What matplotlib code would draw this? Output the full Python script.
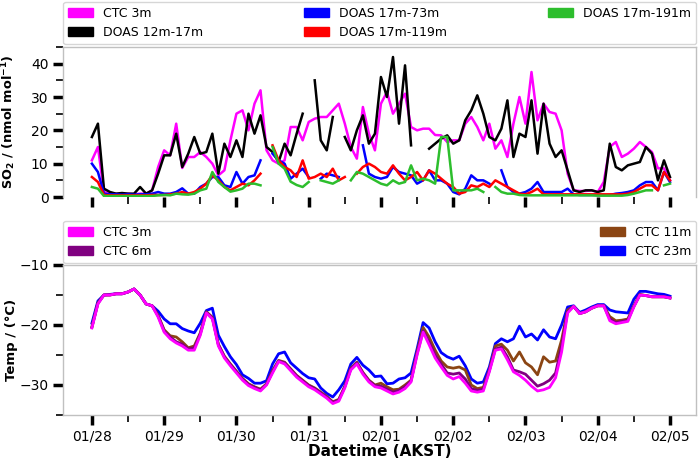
import matplotlib
matplotlib.use("Agg")
import matplotlib.pyplot as plt
import matplotlib.dates as mdates
import matplotlib.patches as mpatches
from matplotlib.ticker import MultipleLocator
import numpy as np
import pandas as pd

nan = np.nan

# 2-hourly samples, 01/28 00:00 .. 02/05 00:00 (AKST)
times = pd.date_range("2022-01-28 00:00", periods=97, freq="2h")

# SO2 (nmol/mol)
so2_ctc_3m = [
    11, 15, 1.5, 1, 1, 0.8, 1, 0.8, 1, 1, 2, 9,
    14, 12.5, 22, 8.7, 12, 12, 13.5, 12, 10, 6.5, 8, 17,
    25, 26, 20, 28, 32, 14, 11, 10, 11, 21, 21, 17,
    22.5, 23.5, 24, 24, 26, 28, 22, 15, 11.5, 27, 19, 14,
    28, 31.5, 25, 28, 31, 21, 20, 20.5, 20.5, 18.6, 18.5, 16.5,
    17, 17, 22, 24, 21, 17, 22, 14.5, 17, 12, 22, 30,
    22, 37.5, 23, 28, 25.5, 25, 20, 7, 2, 1.8, 1.8, 2,
    1.5, 4.5, 15, 16.5, 12, 13, 14.5, 16.5, 15, 13.5, 8.6, 8.6, 5,
]
so2_doas_12_17 = [
    18, 22, 2.5, 1.5, 1, 1.2, 1, 1, 3, 1, 2, 7,
    12.5, 12.5, 19, 9, 13, 18, 13, 13.5, 19, 7, 16, 12,
    17, 12, 25, 19, 24.5, 15, 13.5, 10.5, 16, 12.5, 19, 25,
    nan, 35, 17, 14, 24, nan, 18, 14, 20, 24.5, 16, 19,
    36, 30, 42, 22, 39.5, 15.5, nan, nan, 14.5, 16, 17.5, 18.5,
    16, 17, 23, 26, 30.5, 25, 18, 17, 20.5, 29, 12, 19,
    18, 29, 13, 28, 16, 12, 14, 8, 2, 1.5, 2, 2,
    1.5, 2, 16, 9, 8, 9.5, 10, 10.5, 15, 13, 5, 11, 6,
]
so2_doas_17_73 = [
    10, 7.5, 1, 0.8, 0.8, 0.7, 0.8, 0.7, 0.8, 0.8, 1, 1.5,
    1, 1, 1.5, 2.6, 1, 1, 3, 4, 6, 6, 3.5, 3,
    7.5, 4, 6, 6.5, 11, nan, 13, 11, 10, 5.5, 7, 8.5,
    6, nan, 5.5, 7, 6.5, 6, nan, nan, nan, 15.5, 7, 6,
    5.5, 6, 9, 7.5, 7, 6.5, 4, 5, 8, 5, 5, 4,
    1.5, 0.8, 2.5, 6.5, 5, 5, 4, nan, 8, 3, 1.5, 1,
    1.5, 2.5, 4.5, 1.5, 1.5, 1.5, 1.5, 2.5, 0.8, 0.6, 0.6, 0.6,
    0.6, 0.6, 0.6, 1, 1.2, 1.5, 2, 3.5, 4.5, 4.5, 2, 7.5, 4.5,
]
so2_doas_17_119 = [
    6, 4.5, 0.6, 0.5, 0.5, 0.5, 0.5, 0.5, 0.5, 0.5, 0.6, 0.6,
    0.6, 0.8, 1, 1.5, 1, 1.5, 2.5, 4, 6.5, 5, 3, 2,
    3, 4, 3.5, 5, 7, nan, 15.5, 11, 9, 8, 6, 11,
    5.5, 6, 7, 6, 8.5, 5, 6, nan, 7, 9, 10, 9,
    7.5, 7, 9.5, 7, 5, 6, 7.5, 5, 8, 7, 5.5, 4,
    3, 1, 1.5, 3.5, 3, 4, 3, 5, 4, 3, 2, 1,
    0.8, 1.5, 2.5, 0.8, 0.8, 0.8, 0.8, 0.8, 0.8, 0.8, 0.8, 0.8,
    0.8, 0.8, 0.8, 0.8, 0.8, 1, 1.5, 2.5, 3.5, 3.5, 2, 7.5, 5,
]
so2_doas_17_191 = [
    3, 2.5, 0.3, 0.3, 0.3, 0.3, 0.3, 0.3, 0.3, 0.3, 0.3, 0.5,
    0.6, 0.5, 1, 0.8, 0.7, 1, 2, 2.5, 7.5, 4.5, 3, 1.6,
    2, 2.5, 4, 4, 3.5, nan, 15, 10, 8.5, 4.6, 3.6, 3,
    4.5, nan, 5, 4.5, 4, 5, nan, 5, 7.5, 7, 6, 5,
    4, 3.5, 5, 4, 4.5, 9.5, 5, 5.5, 5, 4, 18, 18,
    2, 2, 2, 2, 2.5, 1.5, nan, 3, 1.5, 1, 1, 0.6,
    0.5, 0.5, 0.5, 0.5, 0.5, 0.5, 0.5, 0.5, 0.5, 0.5, 0.5, 0.5,
    0.4, 0.4, 0.4, 0.4, 0.4, 0.6, 1, 1.5, 2, 2, nan, 3.5, 4,
]

# Temperature (deg C)
t_ctc_3m = [
    -20.5, -16.5, -15, -15, -14.8, -14.8, -14.5, -14.0, -15.0, -16.5, -16.8, -18.7,
    -21.2, -22.3, -23, -23.5, -24.2, -24.2, -21.7, -18.0, -19.0, -23.5, -25.5, -26.8,
    -28, -29.2, -30.1, -30.6, -31, -30, -28, -26.1, -26.5, -27.6, -28.7, -29.5,
    -30.3, -30.8, -31.5, -32.2, -33.1, -32.7, -30.5, -27.5, -26.5, -28.2, -29.5, -30.3,
    -30.5, -31, -31.5, -31.2, -30.6, -29.5, -25, -21.2, -23.3, -25.5, -27, -28.4,
    -29, -28.6, -29.7, -31, -31.2, -31, -27.8, -24.2, -24, -25.8, -27.8, -28.4,
    -29.2, -30.2, -31, -30.8, -30.4, -28.8, -24.5, -18, -16.9, -18.1, -17.8, -17.2,
    -16.8, -16.8, -19.3, -19.8, -19.6, -19.4, -17, -15, -15.1, -15.3, -15.3, -15.3, -15.5,
]
t_ctc_6m = [
    -20.4, -16.4, -15, -15, -14.8, -14.8, -14.5, -14.0, -15.0, -16.5, -16.8, -18.5,
    -21, -22, -22.8, -23.2, -24, -23.8, -21.5, -17.9, -18.8, -23.3, -25.3, -26.6,
    -27.8, -29, -29.9, -30.4, -30.8, -29.9, -27.8, -26, -26.3, -27.4, -28.5, -29.3,
    -30.1, -30.6, -31.3, -32, -32.9, -32.5, -30.3, -27.3, -26.3, -28, -29.3, -30.1,
    -30.2, -30.7, -31.2, -30.9, -30.3, -29.3, -24.8, -21, -22.8, -25, -26.5, -28,
    -28.2, -28, -29, -30.6, -30.9, -30.7, -27.6, -24, -23.7, -25.3, -27.5, -27.8,
    -28.2, -29.2, -30.2, -29.8, -29.2, -28, -23.5, -17.8, -16.9, -18.1, -17.8, -17.2,
    -16.8, -16.8, -19, -19.6, -19.4, -19.2, -16.9, -15, -15.1, -15.3, -15.3, -15.3, -15.5,
]
t_ctc_11m = [
    -20.3, -16.3, -15, -15, -14.8, -14.8, -14.5, -14.0, -15.0, -16.5, -16.8, -18.4,
    -20.8, -21.8, -22, -22.8, -23.8, -23.5, -21.3, -17.8, -18.7, -23.2, -25.2, -26.5,
    -27.7, -28.9, -29.8, -30.3, -30.7, -29.8, -27.6, -25.9, -26.2, -27.3, -28.4, -29.2,
    -30, -30.5, -31.2, -31.9, -32.8, -32.4, -30.2, -27.2, -26.2, -27.9, -29.2, -30,
    -29.7, -30.3, -30.8, -30.7, -30, -29.2, -24.5, -20.4, -22, -24.2, -26, -27,
    -27.2, -27, -27.5, -30, -30.6, -30.4, -27.5, -23.5, -23.2, -24.2, -26, -24.5,
    -26.3, -27, -28.3, -25.3, -26.2, -26, -22.5, -17.5, -16.9, -18.1, -17.8, -17.2,
    -16.8, -16.8, -18.6, -19.3, -19.2, -19, -16.8, -14.9, -15.1, -15.3, -15.3, -15.3, -15.5,
]
t_ctc_23m = [
    -19.7, -16, -15, -14.9, -14.8, -14.8, -14.5, -14.0, -15.0, -16.5, -16.8, -17.7,
    -19, -19.8, -19.8, -20.6, -21, -21.3, -19.7, -17.6, -17.2, -21.7, -23.6, -25.3,
    -26.6, -28.3, -28.9, -29.7, -29.7, -29.3, -26.5, -24.8, -24.5, -26.3, -27.2, -28.1,
    -28.8, -29, -30.5, -31.4, -32, -30.8, -29.3, -26.5, -25.4, -26.7, -27.5, -28.6,
    -28.5, -29.8, -29.7, -29, -28.8, -28, -24, -19.6, -20.5, -22.8, -24.6, -25.3,
    -25.7, -25.2, -26.8, -29, -29.7, -29.5, -27, -23.1, -22.3, -22.8, -22.3, -20.2,
    -22, -21.5, -22.5, -20.8, -22, -22.3, -20, -17, -16.8, -17.9, -17.5, -17,
    -16.6, -16.6, -17.5, -17.8, -17.9, -18, -15.7, -14.4, -14.4, -14.6, -14.8, -14.9, -15.2,
]

so2_series = [
    ("CTC 3m", so2_ctc_3m, "#ff00ff"),
    ("DOAS 12m-17m", so2_doas_12_17, "#000000"),
    ("DOAS 17m-73m", so2_doas_17_73, "#0000ff"),
    ("DOAS 17m-119m", so2_doas_17_119, "#ff0000"),
    ("DOAS 17m-191m", so2_doas_17_191, "#2dbe2d"),
]
temp_series = [
    ("CTC 3m", t_ctc_3m, "#ff00ff"),
    ("CTC 6m", t_ctc_6m, "#800080"),
    ("CTC 11m", t_ctc_11m, "#8b4513"),
    ("CTC 23m", t_ctc_23m, "#0000ff"),
]

fig = plt.figure(figsize=(7, 4.59), dpi=100)
ax1 = fig.add_axes([0.09, 0.5708, 0.9043, 0.3268])
ax2 = fig.add_axes([0.09, 0.0959, 0.9043, 0.3268], sharex=ax1)

for label, vals, color in so2_series:
    ax1.plot(times, vals, color=color, lw=1.8)
# draw the deepest sensor first so CTC 3m ends on top
for label, vals, color in temp_series[::-1]:
    ax2.plot(times, vals, color=color, lw=2.0)

t0 = mdates.date2num(pd.Timestamp("2022-01-28"))
ax1.set_xlim(t0 - 0.4, t0 + 8.36)
ax1.set_ylim(0, 45)
ax2.set_ylim(-35, -10)

for ax in (ax1, ax2):
    ax.xaxis.set_major_locator(mdates.DayLocator())
    ax.xaxis.set_minor_locator(mdates.HourLocator(byhour=[12]))
    ax.xaxis.set_major_formatter(mdates.DateFormatter("%m/%d"))
    ax.yaxis.set_major_locator(MultipleLocator(10))
    ax.yaxis.set_minor_locator(MultipleLocator(5))
    ax.tick_params(which="major", length=7, width=2.5, labelsize=10)
    ax.tick_params(which="minor", length=5, width=1.2)
    for s in ax.spines.values():
        s.set_color("#c0c0c0")
        s.set_linewidth(1.0)
    ax.yaxis.set_label_coords(-0.071, 0.5)

ax1.spines["bottom"].set_visible(False)
ax1.tick_params(labelbottom=False)

ax1.set_ylabel(r"SO$_\mathbf{2}$ / (nmol mol$^{\mathbf{-1}}$)", fontweight="bold", fontsize=9.3)
ax2.set_ylabel("Temp / (°C)", fontweight="bold", fontsize=9.5)
ax2.set_xlabel("Datetime (AKST)", fontweight="bold", fontsize=11, labelpad=0)

h1 = [mpatches.Patch(color=c, label=l) for l, _, c in so2_series]
ax1.legend(handles=h1, loc="lower left", bbox_to_anchor=(0, 1.02, 1, 0.3),
           mode="expand", ncol=3, borderaxespad=0, fontsize=9)
h2 = [mpatches.Patch(color=c, label=l) for l, _, c in temp_series]
ax2.legend(handles=h2, loc="lower left", bbox_to_anchor=(0, 1.013, 1, 0.3),
           mode="expand", ncol=2, borderaxespad=0, fontsize=9)

fig.savefig("out.png", dpi=100)
